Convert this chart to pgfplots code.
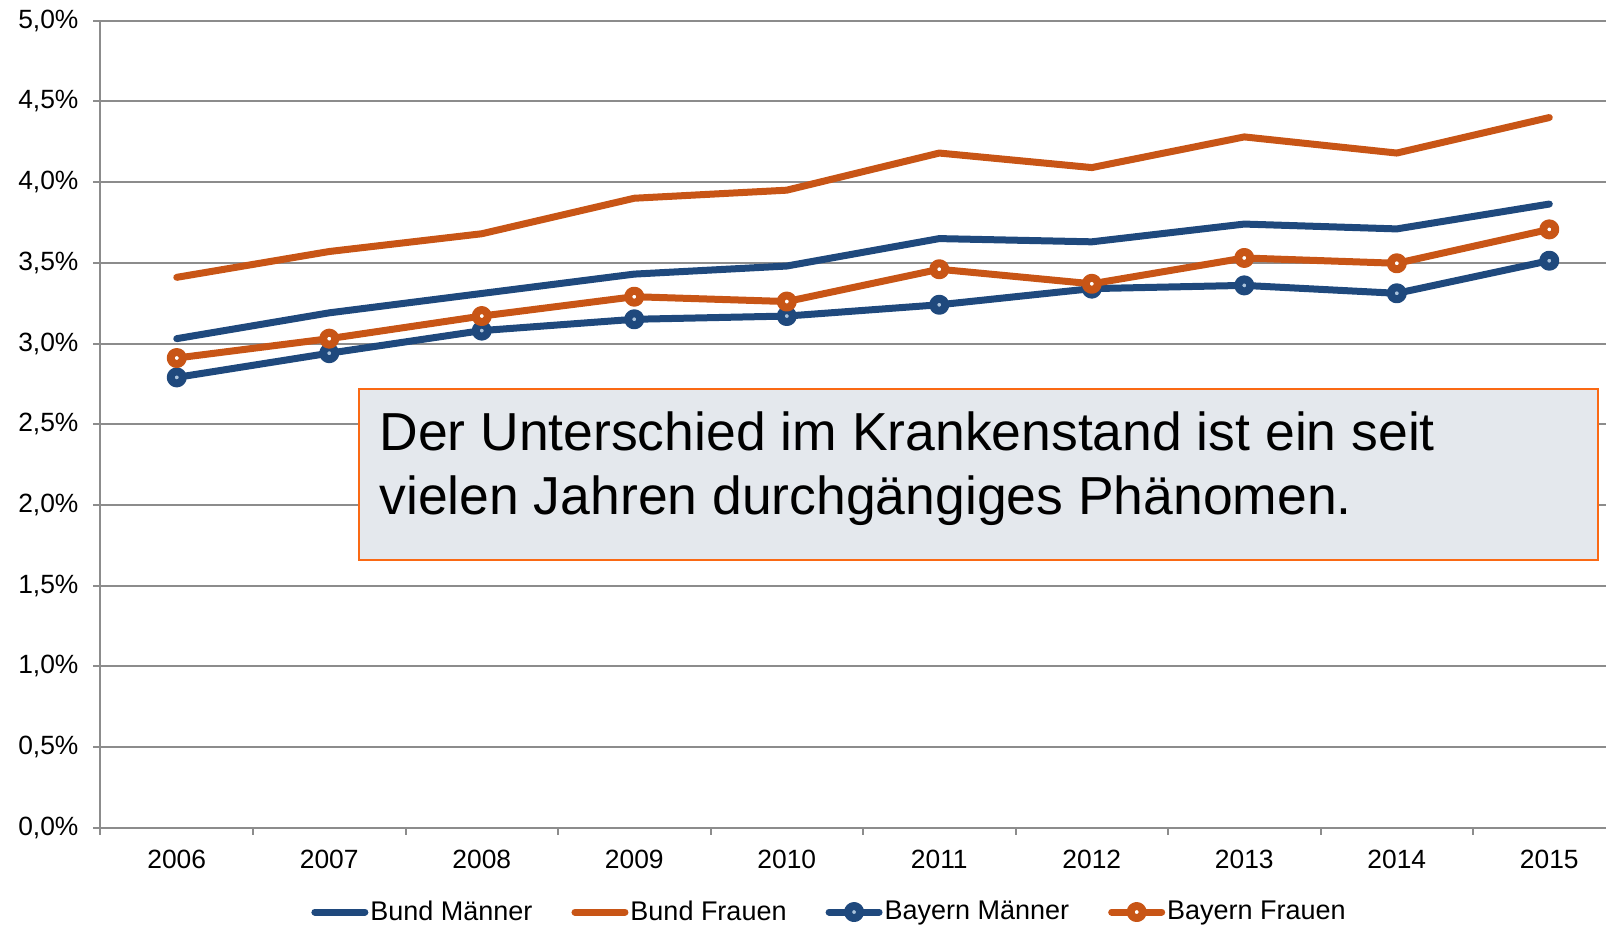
\documentclass[border=0pt]{standalone}
\usepackage{pgfplots}
\pgfplotsset{compat=1.18}
\usepackage{fontspec}
\setmainfont{Liberation Sans}
\definecolor{cblue}{RGB}{31,73,125}
\definecolor{corange}{RGB}{200,85,22}
\definecolor{gridgray}{RGB}{140,140,140}
\definecolor{boxfill}{RGB}{228,232,237}
\definecolor{boxborder}{RGB}{250,105,20}
\definecolor{lightblue}{RGB}{170,195,220}
\begin{document}
\begin{tikzpicture}
\path[use as bounding box] (-50.25bp,-50.15bp) rectangle (752.75bp,413.85bp);
\begin{axis}[
  at={(0,0)}, anchor=south west,
  scale only axis, width=752.75bp, height=403.5bp,
  xmin=-0.5, xmax=9.372, ymin=0, ymax=5,
  axis x line*=bottom, axis y line*=left,
  axis line style={gridgray, line width=1bp, -},
  xtick={0,...,9},
  xticklabels={2006,2007,2008,2009,2010,2011,2012,2013,2014,2015},
  major x tick style={draw=none},
  minor xtick={-0.5,0.5,...,8.5},
  minor tick length=3.5bp,
  major tick length=3.5bp,
  tick align=outside,
  ytick={0,0.5,...,5},
  tick style={gridgray, line width=1bp},
  ymajorgrids, grid style={gridgray, line width=1bp},
  yticklabel={\pgfmathprintnumber[fixed,fixed zerofill,precision=1,use comma,assume math mode=true]{\tick}\%},
  tick label style={font=\fontsize{13.2bp}{15bp}\selectfont},
  yticklabel style={xshift=-4bp},
  xticklabel style={yshift=-4bp},
  legend style={at={(0.1398,-0.1045)}, anchor=west, draw=none, fill=none, inner sep=0pt,
    nodes={inner sep=0pt},
    font=\fontsize{13.5bp}{15bp}\selectfont, column sep=1bp,
    /tikz/every even column/.append style={column sep=19.5bp}},
  legend columns=4, legend cell align=left,
  legend image code/.code={\draw[mark repeat=2,mark phase=2,#1] plot coordinates {(0bp,0bp)(12.5bp,0bp)(25bp,0bp)};},
  every axis plot/.append style={line width=3.5bp, line join=round, line cap=round},
]
\addplot[cblue] coordinates {(0,3.03)(1,3.19)(2,3.31)(3,3.43)(4,3.48)(5,3.65)(6,3.63)(7,3.74)(8,3.71)(9,3.864)};
\addlegendentry{Bund Männer}
\addplot[corange] coordinates {(0,3.41)(1,3.57)(2,3.68)(3,3.90)(4,3.95)(5,4.18)(6,4.09)(7,4.28)(8,4.18)(9,4.40)};
\addlegendentry{Bund Frauen}
\addplot[cblue, mark=*, mark size=3bp, mark options={solid, draw=cblue, fill=lightblue, line width=4bp}] coordinates {(0,2.79)(1,2.94)(2,3.08)(3,3.15)(4,3.17)(5,3.24)(6,3.34)(7,3.36)(8,3.311)(9,3.513)};
\addlegendentry{Bayern Männer}
\addplot[corange, mark=*, mark size=3bp, mark options={solid, draw=corange, fill=white, line width=4bp}] coordinates {(0,2.91)(1,3.03)(2,3.17)(3,3.29)(4,3.26)(5,3.46)(6,3.37)(7,3.53)(8,3.497)(9,3.707)};
\addlegendentry{Bayern Frauen}
\end{axis}
\draw[boxborder, line width=1bp, fill=boxfill] (129bp,133.85bp) rectangle (748.75bp,219.35bp);
\node[anchor=base west, inner sep=0pt, font=\fontsize{26.75bp}{32bp}\selectfont] at (139.25bp,188.35bp) {Der Unterschied im Krankenstand ist ein seit};
\node[anchor=base west, inner sep=0pt, font=\fontsize{26.75bp}{32bp}\selectfont] at (139.25bp,156.35bp) {vielen Jahren durchgängiges Phänomen.};
\end{tikzpicture}
\end{document}
